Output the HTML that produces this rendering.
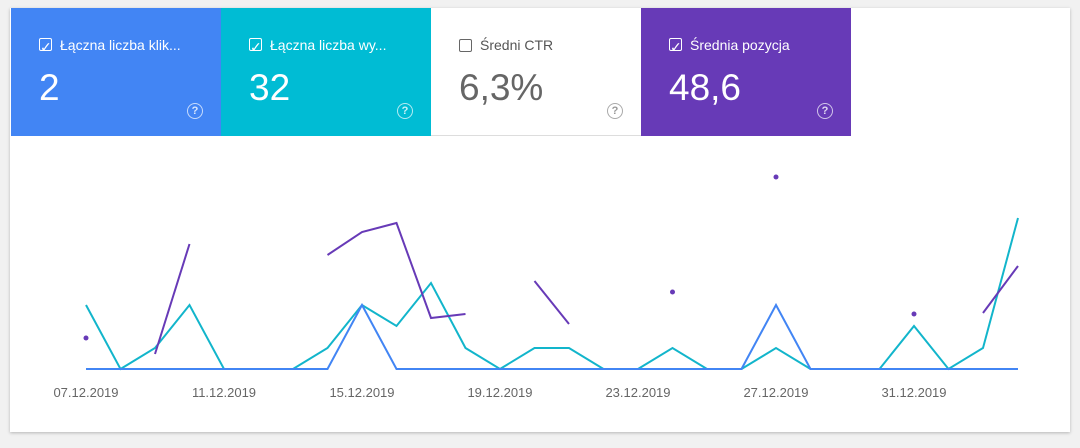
<!DOCTYPE html>
<html><head><meta charset="utf-8"><style>
body{margin:0;width:1080px;height:448px;background:#f1f1f1;font-family:"Liberation Sans",sans-serif;overflow:hidden;position:relative}
.card{position:absolute;left:10px;top:8px;width:1060px;height:424px;background:#fff;box-shadow:0 1px 3px rgba(0,0,0,.25)}
.t{position:absolute;top:8px;height:128px;width:210px;color:#fff}
.t .h{position:absolute;left:28px;top:29px;font-size:14px;white-space:nowrap}
.t .h span.cb{display:inline-block;width:11px;height:11px;border:1.5px solid currentColor;border-radius:2px;vertical-align:-2px;margin-right:8px;position:relative}
.t .v{position:absolute;left:28px;top:59px;font-size:37px}
.t .q{position:absolute;left:176px;top:95px;width:14px;height:14px;border:1.5px solid rgba(255,255,255,.7);border-radius:50%;font-size:11px;text-align:center;line-height:14px;color:rgba(255,255,255,.8);font-weight:bold}
</style></head><body>
<div class="card"></div>
<div class="t" style="left:11px;background:#4285f4"><div class="h"><span class="cb">✓</span>Łączna liczba klik...</div><div class="v">2</div><div class="q">?</div></div>
<div class="t" style="left:221px;background:#00bcd4"><div class="h"><span class="cb">✓</span>Łączna liczba wy...</div><div class="v">32</div><div class="q">?</div></div>
<div class="t" style="left:431px;background:#fff;color:#666;border-bottom:1px solid #ddd;height:127px"><div class="h" style="color:#555"><span class="cb" style="color:#666"></span>Średni CTR</div><div class="v" style="color:#666">6,3%</div><div class="q" style="border-color:#aaa;color:#999">?</div></div>
<div class="t" style="left:641px;background:#673ab7"><div class="h"><span class="cb">✓</span>Średnia pozycja</div><div class="v">48,6</div><div class="q">?</div></div>
<svg style="position:absolute;left:0;top:0" width="1080" height="448">
<g font-size="13" fill="#666" font-family="Liberation Sans">
<text x="86" y="397" text-anchor="middle">07.12.2019</text>
<text x="224" y="397" text-anchor="middle">11.12.2019</text>
<text x="362" y="397" text-anchor="middle">15.12.2019</text>
<text x="500" y="397" text-anchor="middle">19.12.2019</text>
<text x="638" y="397" text-anchor="middle">23.12.2019</text>
<text x="776" y="397" text-anchor="middle">27.12.2019</text>
<text x="914" y="397" text-anchor="middle">31.12.2019</text>
</g>
<polyline fill="none" stroke="#12b5cb" stroke-width="2" points="86,305 120.5,369 155,348 189.5,305 224,369 258.5,369 293,369 327.5,348 362,305 396.5,326 431,283 465.5,348 500,369 534.5,348 569,348 603.5,369 638,369 672.5,348 707,369 741.5,369 776,348 810.5,369 845,369 879.5,369 914,326 948.5,369 983,348 1018,218"/>
<polyline fill="none" stroke="#4285f4" stroke-width="2" points="86,369 327.5,369 362,305 396.5,369 741.5,369 776,305 810.5,369 1018,369"/>
<g fill="none" stroke="#673ab7" stroke-width="2">
<polyline points="155,354 189.5,244"/>
<polyline points="327.5,255 362,232 396.5,223 431,318 465.5,314"/>
<polyline points="534.5,281 569,324"/>
<polyline points="983,313 1018,266"/>
</g>
<g fill="#673ab7"><circle cx="86" cy="338" r="2.5"/><circle cx="672.5" cy="292" r="2.5"/><circle cx="776" cy="177" r="2.5"/><circle cx="914" cy="314" r="2.5"/></g>
</svg>
</body></html>
